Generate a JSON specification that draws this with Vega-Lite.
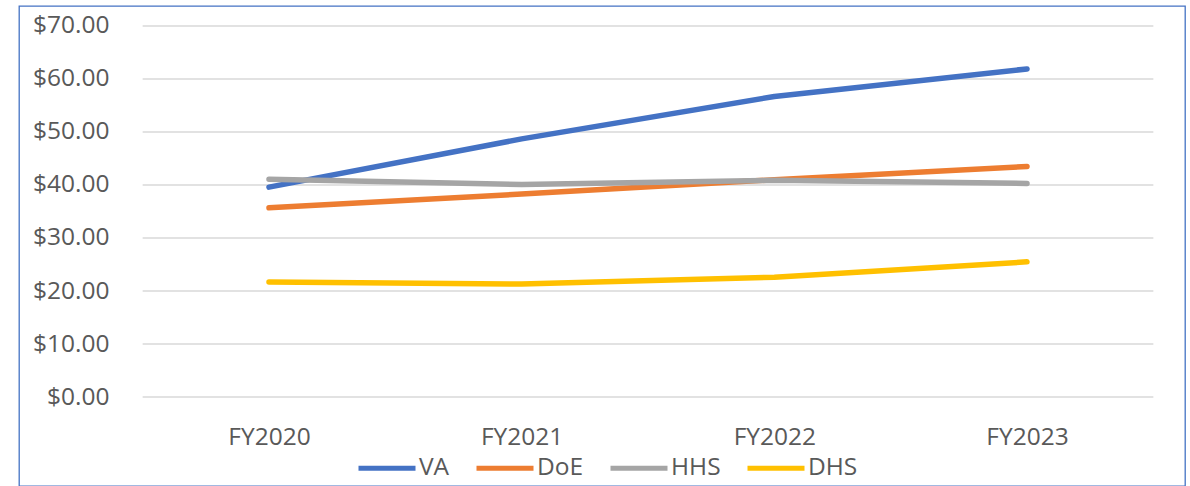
{
  "$schema": "https://vega.github.io/schema/vega-lite/v6.json",
  "autosize": "none",
  "width": 1166,
  "height": 480,
  "padding": {"left": 19, "top": 6, "right": 5, "bottom": 0},
  "background": "white",
  "config": {
    "view": {"stroke": "#4472C4", "strokeWidth": 1.3},
    "font": "Open Sans"
  },
  "datasets": {
    "series": [
      {"year": 2020, "agency": "VA", "value": 39.6},
      {"year": 2021, "agency": "VA", "value": 48.7},
      {"year": 2022, "agency": "VA", "value": 56.7},
      {"year": 2023, "agency": "VA", "value": 61.9},
      {"year": 2020, "agency": "DoE", "value": 35.7},
      {"year": 2021, "agency": "DoE", "value": 38.3},
      {"year": 2022, "agency": "DoE", "value": 41.0},
      {"year": 2023, "agency": "DoE", "value": 43.5},
      {"year": 2020, "agency": "HHS", "value": 41.1},
      {"year": 2021, "agency": "HHS", "value": 40.1},
      {"year": 2022, "agency": "HHS", "value": 40.9},
      {"year": 2023, "agency": "HHS", "value": 40.3},
      {"year": 2020, "agency": "DHS", "value": 21.7},
      {"year": 2021, "agency": "DHS", "value": 21.3},
      {"year": 2022, "agency": "DHS", "value": 22.6},
      {"year": 2023, "agency": "DHS", "value": 25.5}
    ],
    "grid": [
      {"v": 0}, {"v": 10}, {"v": 20}, {"v": 30}, {"v": 40}, {"v": 50}, {"v": 60}, {"v": 70}
    ]
  },
  "layer": [
    {
      "data": {"name": "grid"},
      "mark": {"type": "rule", "color": "#D9D9D9", "strokeWidth": 1.4},
      "encoding": {
        "y": {"field": "v", "type": "quantitative"},
        "x": {"datum": 2019.5, "type": "quantitative"},
        "x2": {"datum": 2023.5}
      }
    },
    {
      "data": {"name": "series"},
      "mark": {"type": "line", "strokeWidth": 5.5, "strokeCap": "round", "strokeJoin": "round"},
      "encoding": {
        "x": {
          "field": "year",
          "type": "quantitative",
          "scale": {"domain": [2019.0106, 2023.6253], "nice": false, "zero": false},
          "axis": {
            "values": [2020, 2021, 2022, 2023],
            "labelExpr": "'FY' + datum.value",
            "title": null,
            "grid": false,
            "ticks": false,
            "tickSize": 0,
            "domain": false,
            "labelPadding": 0,
            "labelBaseline": "alphabetic",
            "offset": -42,
            "labelFontSize": 24.5,
            "labelColor": "#595959",
            "labelFont": "Open Sans"
          }
        },
        "y": {
          "field": "value",
          "type": "quantitative",
          "scale": {"domain": [-16.79, 73.77], "nice": false, "zero": false},
          "axis": {
            "values": [0, 10, 20, 30, 40, 50, 60, 70],
            "format": "$,.2f",
            "title": null,
            "grid": false,
            "ticks": false,
            "tickSize": 0,
            "domain": false,
            "labelPadding": 0,
            "offset": -90,
            "labelFontSize": 24.5,
            "labelColor": "#595959",
            "labelFont": "Open Sans"
          }
        },
        "color": {
          "field": "agency",
          "type": "nominal",
          "scale": {
            "domain": ["VA", "DoE", "HHS", "DHS"],
            "range": ["#4472C4", "#ED7D31", "#A5A5A5", "#FFC000"]
          },
          "legend": {
            "title": null,
            "orient": "none",
            "direction": "horizontal",
            "legendX": 337,
            "legendY": 431,
            "padding": 0,
            "symbolType": "stroke",
            "symbolSize": 3249,
            "symbolStrokeWidth": 5,
            "labelOffset": 1,
            "columnPadding": 16,
            "labelFontSize": 24.5,
            "labelColor": "#595959",
            "labelFont": "Open Sans"
          }
        }
      }
    }
  ]
}
